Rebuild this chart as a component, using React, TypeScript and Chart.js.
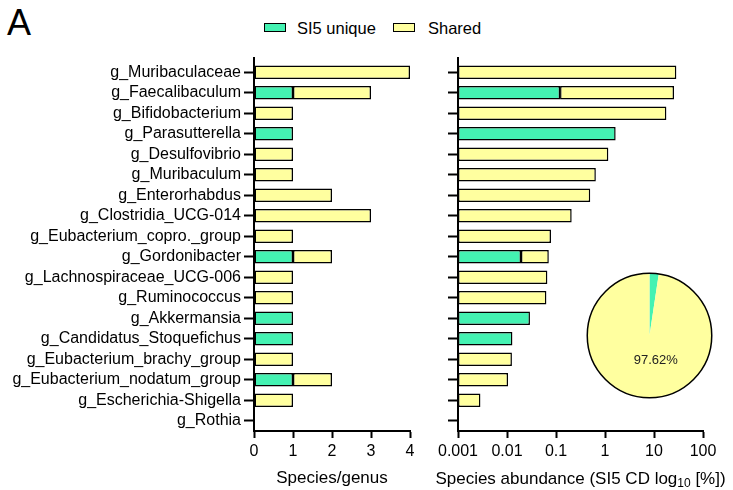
import React, { useEffect, useRef } from "react";
import { Chart, registerables } from "chart.js";

Chart.register(...registerables);

// Genera, top to bottom
const genera = [
  "g_Muribaculaceae",
  "g_Faecalibaculum",
  "g_Bifidobacterium",
  "g_Parasutterella",
  "g_Desulfovibrio",
  "g_Muribaculum",
  "g_Enterorhabdus",
  "g_Clostridia_UCG-014",
  "g_Eubacterium_copro._group",
  "g_Gordonibacter",
  "g_Lachnospiraceae_UCG-006",
  "g_Ruminococcus",
  "g_Akkermansia",
  "g_Candidatus_Stoquefichus",
  "g_Eubacterium_brachy_group",
  "g_Eubacterium_nodatum_group",
  "g_Escherichia-Shigella",
  "g_Rothia",
];

// Number of species per genus
const uniqueSpecies = [0, 1, 0, 1, 0, 0, 0, 0, 0, 1, 0, 0, 1, 1, 0, 1, 0, 0];
const sharedSpecies = [4, 2, 1, 0, 1, 1, 2, 3, 1, 1, 1, 1, 0, 0, 1, 1, 1, 0];

// Species abundance in SI5 CD (%)
const uniqueAbundance = [0, 0.121, 0, 1.65, 0, 0, 0, 0, 0, 0.0193, 0, 0, 0.0294, 0.0129, 0, 0, 0, 0];
const sharedAbundance = [28.6, 25.5, 17.9, 0, 1.17, 0.65, 0.5, 0.209, 0.079, 0.052, 0.0667, 0.0637, 0, 0, 0.0126, 0.0105, 0.00287, 0];

const speciesTicks = [0, 1, 2, 3, 4];
const abundanceTicks = [0.001, 0.01, 0.1, 1, 10, 100];

// Abundance share of unique vs shared genera (%)
const seriesNames = ["SI5 unique", "Shared"];
const abundanceShare = [2.38, 97.62];

const GREEN = "#44F2B2";
const YELLOW = "#FFFF9F";
const FONT = "'Liberation Sans', Arial, Helvetica, sans-serif";

Chart.defaults.color = "#000";
Chart.defaults.font.family = FONT;

// Lets the value axis line run a few pixels above the first row
const axisCap = {
  id: "axisCap",
  afterDraw(chart: any) {
    const { ctx, chartArea } = chart;
    ctx.save();
    ctx.strokeStyle = "#000";
    ctx.lineWidth = 2;
    ctx.beginPath();
    ctx.moveTo(chartArea.left, chartArea.top - 5);
    ctx.lineTo(chartArea.left, chartArea.top + 1);
    ctx.stroke();
    ctx.restore();
  },
};

// Axis title with a subscript, which the built-in title cannot do
const subscriptTitle = {
  id: "subscriptTitle",
  afterDraw(chart: any) {
    const { ctx, chartArea, scales } = chart;
    const main = "Species abundance (SI5 CD log";
    const sub = "10";
    const tail = " [%])";
    const big = `17px ${FONT}`;
    const small = `12px ${FONT}`;
    ctx.save();
    ctx.fillStyle = "#000";
    ctx.textBaseline = "middle";
    ctx.textAlign = "left";
    ctx.font = big;
    const w1 = ctx.measureText(main).width;
    const w3 = ctx.measureText(tail).width;
    ctx.font = small;
    const w2 = ctx.measureText(sub).width;
    const y = scales.x.bottom - 11;
    let x = (chartArea.left + chartArea.right) / 2 - (w1 + w2 + w3) / 2;
    ctx.font = big;
    ctx.fillText(main, x, y);
    x += w1;
    ctx.font = small;
    ctx.fillText(sub, x, y + 5);
    x += w2;
    ctx.font = big;
    ctx.fillText(tail, x, y);
    ctx.restore();
  },
};

const pieDecor = {
  id: "pieDecor",
  afterDatasetsDraw(chart: any) {
    const { ctx } = chart;
    const arc = chart.getDatasetMeta(0).data[1];
    const { x, y, outerRadius } = arc.getProps(["x", "y", "outerRadius"], true);
    ctx.save();
    ctx.strokeStyle = "#000";
    ctx.lineWidth = 1.5;
    ctx.beginPath();
    ctx.arc(x, y, outerRadius - 0.25, 0, Math.PI * 2);
    ctx.stroke();
    ctx.fillStyle = "#222";
    ctx.font = `13px ${FONT}`;
    ctx.textAlign = "center";
    ctx.textBaseline = "middle";
    ctx.fillText(`${abundanceShare[1].toFixed(2)}%`, x + 0.1 * outerRadius, y + 0.4 * outerRadius);
    ctx.restore();
  },
};

const barStyle = {
  borderColor: "#000",
  borderWidth: 1.5,
  borderSkipped: false,
  barPercentage: 0.65,
  categoryPercentage: 1,
};

function categoryAxis(showLabels: boolean, width: number) {
  return {
    type: "category",
    stacked: true,
    offset: true,
    border: { display: true, color: "#000", width: 2 },
    grid: {
      display: true,
      drawOnChartArea: false,
      drawTicks: true,
      tickLength: 10,
      tickWidth: 2,
      tickColor: "#000",
      offset: false,
    },
    ticks: {
      display: showLabels,
      autoSkip: false,
      padding: 3,
      color: "#000",
      font: { size: 16, family: FONT },
    },
    afterFit(scale: any) {
      scale.width = width;
    },
  };
}

function valueAxisGrid() {
  return {
    display: true,
    drawOnChartArea: false,
    drawTicks: true,
    tickLength: 7,
    tickWidth: 2,
    tickColor: "#000",
  };
}

export default function App() {
  const leftRef = useRef<HTMLCanvasElement>(null);
  const rightRef = useRef<HTMLCanvasElement>(null);
  const pieRef = useRef<HTMLCanvasElement>(null);

  useEffect(() => {
    const left = new Chart(leftRef.current as HTMLCanvasElement, {
      type: "bar",
      data: {
        labels: genera,
        datasets: [
          { label: seriesNames[0], data: uniqueSpecies, backgroundColor: GREEN, ...barStyle },
          { label: seriesNames[1], data: sharedSpecies, backgroundColor: YELLOW, ...barStyle },
        ],
      },
      options: {
        indexAxis: "y",
        animation: false,
        responsive: false,
        layout: { padding: { top: 62, right: 30, left: 0, bottom: 0 } },
        plugins: { legend: { display: false }, tooltip: { enabled: false } },
        scales: {
          y: categoryAxis(true, 254),
          x: {
            type: "linear",
            stacked: true,
            min: speciesTicks[0],
            max: speciesTicks[speciesTicks.length - 1],
            border: { display: true, color: "#000", width: 2 },
            grid: valueAxisGrid(),
            afterBuildTicks(scale: any) {
              scale.ticks = speciesTicks.map((v) => ({ value: v }));
            },
            ticks: {
              autoSkip: false,
              maxRotation: 0,
              padding: 4,
              color: "#000",
              font: { size: 16, family: FONT },
            },
            title: {
              display: true,
              text: "Species/genus",
              color: "#000",
              font: { size: 17, family: FONT },
              padding: { top: 0, bottom: 1 },
            },
            afterFit(scale: any) {
              scale.height = 59;
            },
          },
        },
      } as any,
      plugins: [axisCap],
    });

    const right = new Chart(rightRef.current as HTMLCanvasElement, {
      type: "bar",
      data: {
        labels: genera,
        datasets: [
          { label: seriesNames[0], data: uniqueAbundance, backgroundColor: GREEN, ...barStyle },
          { label: seriesNames[1], data: sharedAbundance, backgroundColor: YELLOW, ...barStyle },
        ],
      },
      options: {
        indexAxis: "y",
        animation: false,
        responsive: false,
        layout: { padding: { top: 62, right: 30, left: 0, bottom: 0 } },
        plugins: { legend: { display: false }, tooltip: { enabled: false } },
        scales: {
          y: categoryAxis(false, 28),
          x: {
            type: "logarithmic",
            stacked: true,
            min: abundanceTicks[0],
            max: abundanceTicks[abundanceTicks.length - 1],
            border: { display: true, color: "#000", width: 2 },
            grid: valueAxisGrid(),
            afterBuildTicks(scale: any) {
              scale.ticks = abundanceTicks.map((v) => ({ value: v }));
            },
            ticks: {
              autoSkip: false,
              maxRotation: 0,
              padding: 4,
              color: "#000",
              font: { size: 16, family: FONT },
              callback: (v: any) => String(Number(v)),
            },
            afterFit(scale: any) {
              scale.height = 59;
            },
          },
        },
      } as any,
      plugins: [axisCap, subscriptTitle],
    });

    const pie = new Chart(pieRef.current as HTMLCanvasElement, {
      type: "pie",
      data: {
        labels: seriesNames,
        datasets: [
          {
            data: abundanceShare,
            backgroundColor: [GREEN, YELLOW],
            borderWidth: 0,
          },
        ],
      },
      options: {
        animation: false,
        responsive: false,
        layout: { padding: 3 },
        plugins: { legend: { display: false }, tooltip: { enabled: false } },
      } as any,
      plugins: [pieDecor],
    });

    return () => {
      left.destroy();
      right.destroy();
      pie.destroy();
    };
  }, []);

  const abs = (l: number, t: number): React.CSSProperties => ({ position: "absolute", left: l, top: t });
  const swatch = (color: string, l: number): React.CSSProperties => ({
    ...abs(l, 23),
    width: 22,
    height: 9,
    boxSizing: "border-box",
    border: "1.5px solid #000",
    background: color,
  });
  const legendText = (l: number): React.CSSProperties => ({
    ...abs(l, 20),
    font: `16.5px/16px ${FONT}`,
    color: "#000",
    whiteSpace: "nowrap",
  });

  return (
    <div
      style={{
        position: "fixed",
        left: 0,
        top: 0,
        width: 733,
        height: 490,
        background: "#fff",
        overflow: "hidden",
        fontFamily: FONT,
      }}
    >
      <div style={{ ...abs(7, 4.6), font: `36px/36px ${FONT}`, color: "#000" }}>A</div>
      <div style={swatch(GREEN, 264)} />
      <div style={legendText(297)}>{seriesNames[0]}</div>
      <div style={swatch(YELLOW, 393)} />
      <div style={legendText(428)}>{seriesNames[1]}</div>
      <canvas ref={leftRef} width={440} height={490} style={{ ...abs(0, 0), display: "block" }} />
      <canvas ref={rightRef} width={303} height={490} style={{ ...abs(430, 0), display: "block" }} />
      <canvas ref={pieRef} width={131} height={131} style={{ ...abs(584, 270), display: "block" }} />
    </div>
  );
}
